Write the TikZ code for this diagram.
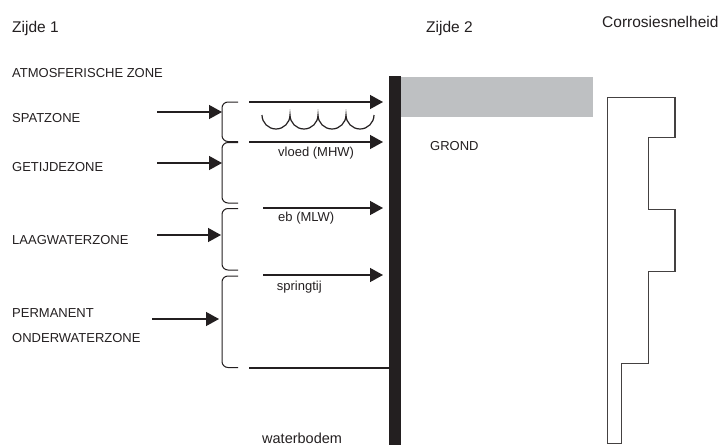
\documentclass[tikz,border=0pt]{standalone}
\usepackage{fontspec}
\setmainfont{Liberation Sans}
\usetikzlibrary{arrows.meta}
\definecolor{ink}{HTML}{231F20}
\definecolor{soil}{HTML}{BEC0C2}
\tikzset{
  lbl/.style={anchor=base west, inner sep=0pt, text=ink, font=\fontsize{13}{13}\selectfont},
  hdr/.style={anchor=base west, inner sep=0pt, text=ink, font=\fontsize{15.5}{15.5}\selectfont},
  arr/.style={draw=ink, line width=1.4pt, -{Triangle[length=13pt,width=14pt]}},
  brc/.style={draw=ink, line width=1pt, rounded corners=6pt},
  prof/.style={draw=ink!85, line width=1.3pt, line join=miter}
}
\newcommand{\mybrace}[2]{\draw[brc] (238,#1) -- (222,#1) -- (222,#2) -- (238,#2);}
\begin{document}
\begin{tikzpicture}[x=1pt,y=-1pt]
\useasboundingbox (0,0) rectangle (721,445);
% headers
\node[hdr] (z1) at (12,32.3) {Zijde 1};
\node[hdr] (z2) at (426,32.3) {Zijde 2};
\node[hdr] (cr) at (602,27.3) {Corrosiesnelheid};
% zone labels
\node[lbl] (atm) at (12,77.3) {ATMOSFERISCHE ZONE};
\node[lbl] (spat) at (12,122.7) {SPATZONE};
\node[lbl] (getij) at (12,171) {GETIJDEZONE};
\node[lbl] (laag) at (12,244.3) {LAAGWATERZONE};
\node[lbl] (perm) at (12,317.7) {PERMANENT};
\node[lbl] (onder) at (12,342) {ONDERWATERZONE};
% soil and wall
\fill[soil] (401,77) rectangle (593,117);
\fill[ink] (389,76) rectangle (401,445);
\node[lbl] (grond) at (430,150.7) {GROND};
% left arrows to braces
\coordinate (s1) at (157,112); \coordinate (e1) at (222,112);
\coordinate (s2) at (157,163); \coordinate (e2) at (222,163);
\coordinate (s3) at (157,235); \coordinate (e3) at (221,235);
\coordinate (s4) at (152,319); \coordinate (e4) at (219,319);
\draw[arr] (s1) -- (e1);
\draw[arr] (s2) -- (e2);
\draw[arr] (s3) -- (e3);
\draw[arr] (s4) -- (e4);
% braces
\mybrace{102}{141.5}
\mybrace{142.5}{203}
\mybrace{208.5}{270}
\mybrace{276}{367.5}
% water level arrows
\coordinate (w1s) at (249,102); \coordinate (w1e) at (383,102);
\coordinate (w2s) at (249,142); \coordinate (w2e) at (383,142);
\coordinate (w3s) at (263,208); \coordinate (w3e) at (383,208);
\coordinate (w4s) at (263,275); \coordinate (w4e) at (383,275);
\coordinate (w5s) at (249,368); \coordinate (w5e) at (389,368);
\draw[arr] (w1s) -- (w1e);
\draw[arr] (w2s) -- (w2e);
\draw[arr] (w3s) -- (w3e);
\draw[arr] (w4s) -- (w4e);
\draw[draw=ink, line width=1.4pt] (w5s) -- (w5e);
% waves
\draw[draw=ink, line width=1.2pt] (262,115) arc[start angle=180,end angle=0,radius=14]
  arc[start angle=180,end angle=0,radius=14]
  arc[start angle=180,end angle=0,radius=14]
  arc[start angle=180,end angle=0,radius=14];
% level labels
\node[lbl] (vloed) at (278,156.7) {vloed (MHW)};
\node[lbl] (eb) at (278,221.7) {eb (MLW)};
\node[lbl] (spring) at (276.7,290.5) {springtij};
\node[lbl, font=\fontsize{14.5}{14.5}\selectfont] (bodem) at (262,443) {waterbodem};
% corrosion rate profile
\draw[prof] (607.7,97.7) -- (675,97.7) -- (675,137.7) -- (648.3,137.7) -- (648.3,209.3)
  -- (675,209.3) -- (675,271.7) -- (648.3,271.7) -- (648.3,363.3) -- (621.7,363.3)
  -- (621.7,443.3) -- (607.7,443.3) -- cycle;
\end{tikzpicture}
\end{document}
